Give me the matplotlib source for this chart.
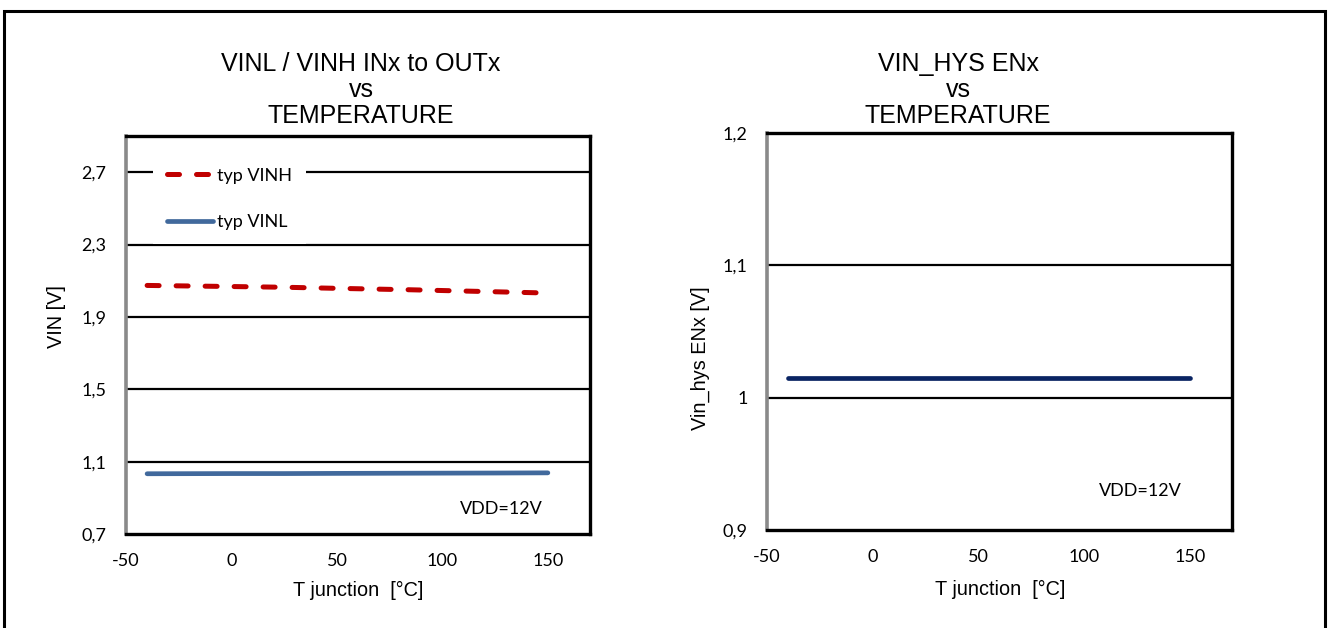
import matplotlib.pyplot as plt
from matplotlib.patches import Rectangle

# data
t_vin = [-40, 0, 25, 50, 85, 125, 150]
vinh = [2.074, 2.068, 2.064, 2.058, 2.050, 2.039, 2.032]
vinl = [1.033, 1.034, 1.034, 1.035, 1.036, 1.037, 1.038]

t_hys = [-40, 0, 50, 100, 150]
vin_hys = [1.015, 1.015, 1.015, 1.015, 1.015]

left_yticks = [0.7, 1.1, 1.5, 1.9, 2.3, 2.7]
right_yticks = [0.9, 1.0, 1.1, 1.2]
right_ylabels = ['0,9', '1', '1,1', '1,2']
xticks = [-50, 0, 50, 100, 150]

red = '#C00000'
blue = '#41699C'
navy = '#0A2463'
tick_font = 'Lato'
head_font = 'Liberation Sans'

fig = plt.figure(figsize=(13.28, 6.28), dpi=100)

# outer frame
fig.add_artist(Rectangle((4 / 1328, -0.05), 1321 / 1328, 1 - 11 / 628 + 0.05,
                         transform=fig.transFigure, fill=False,
                         edgecolor='black', linewidth=2.2))

ax1 = fig.add_axes([0.0949, 0.1497, 0.3494, 0.6337])
ax2 = fig.add_axes([0.5776, 0.1561, 0.3501, 0.6321])


def style(ax, yticks, ylabels, ylim):
    ax.set_xlim(-50, 170)
    ax.set_ylim(*ylim)
    ax.set_xticks(xticks)
    ax.set_xticklabels([str(v) for v in xticks], fontfamily=tick_font, fontsize=13)
    ax.set_yticks(yticks)
    ax.set_yticklabels(ylabels, fontfamily=tick_font, fontsize=13)
    ax.tick_params(length=0, pad=14)
    ax.tick_params(axis='x', pad=14)
    for y in yticks[1:]:
        if y < ylim[1] - 1e-9:
            ax.axhline(y, color='black', linewidth=1.6, zorder=1)
    for s in ['top', 'right', 'bottom']:
        ax.spines[s].set_linewidth(2.4)
        ax.spines[s].set_color('black')
    ax.spines['left'].set_linewidth(2.6)
    ax.spines['left'].set_color('#8a8a8a')


style(ax1, left_yticks, [f'{v:.1f}'.replace('.', ',') for v in left_yticks], (0.7, 2.9))
style(ax2, right_yticks, right_ylabels, (0.9, 1.2))

ax1.plot(t_vin, vinh, color=red, linewidth=3.6, linestyle=(0, (2.4, 3.4)),
         dash_capstyle='round', label='typ VINH', zorder=3)
ax1.plot(t_vin, vinl, color=blue, linewidth=3.4, solid_capstyle='round',
         label='typ VINL', zorder=3)
leg = ax1.legend(loc='upper left', bbox_to_anchor=(153 / 1328, 1 - 154 / 628),
                 bbox_transform=fig.transFigure, frameon=True, fancybox=False,
                 facecolor='white', edgecolor='none', framealpha=1,
                 prop={'family': tick_font, 'size': 13}, handlelength=2.6,
                 handletextpad=0.2, labelspacing=1.7, borderpad=0.75,
                 borderaxespad=0)

ax2.plot(t_hys, vin_hys, color=navy, linewidth=3.4, solid_capstyle='round', zorder=3)

# titles
fig.text(0.2718, 0.8567, 'VINL / VINH INx to OUTx\nvs\nTEMPERATURE', ha='center',
         va='center', fontfamily=head_font, fontsize=18, linespacing=1.08)
fig.text(0.7214, 0.8567, 'VIN_HYS ENx\nvs\nTEMPERATURE', ha='center',
         va='center', fontfamily=head_font, fontsize=18, linespacing=1.08)

# axis labels
fig.text(0.0429, 0.4952, 'VIN [V]', rotation=90, ha='center', va='center',
         fontfamily=head_font, fontsize=14.3)
fig.text(0.5271, 0.43, 'Vin_hys ENx [V]', rotation=90, ha='center', va='center',
         fontfamily=head_font, fontsize=14.3)
fig.text(0.27, 0.059, 'T junction  [°C]', ha='center', va='center',
         fontfamily=head_font, fontsize=14.3)
fig.text(0.753, 0.062, 'T junction  [°C]', ha='center', va='center',
         fontfamily=head_font, fontsize=14.3)

# annotations
fig.text(0.3773, 0.1895, 'VDD=12V', ha='center', va='center',
         fontfamily=tick_font, fontsize=13)
fig.text(0.8588, 0.2188, 'VDD=12V', ha='center', va='center',
         fontfamily=tick_font, fontsize=13)

fig.savefig('out.png', dpi=100)
